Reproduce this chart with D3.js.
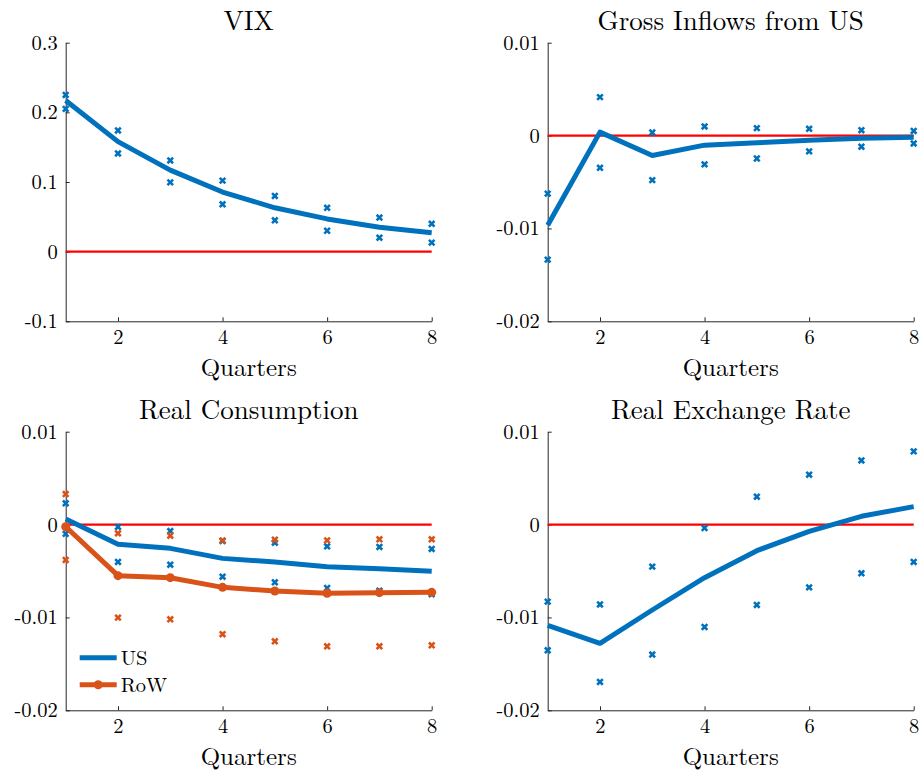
<!DOCTYPE html>
<html>
<head>
<meta charset="utf-8">
<script src="https://cdn.jsdelivr.net/npm/d3@7/dist/d3.min.js"></script>
<style>
  html, body { margin: 0; padding: 0; background: #fff; }
  svg { display: block; }
  text { font-family: 'Latin Modern Roman', 'Liberation Serif', serif; }
</style>
</head>
<body>
<svg id="chart" width="922" height="773"></svg>
<script>
// quarters after the shock
var quarters = [1, 2, 3, 4, 5, 6, 7, 8];
var xTicks = [2, 4, 6, 8];

// VIX
var vixMid = [0.217, 0.158, 0.117, 0.0856, 0.063, 0.047, 0.035, 0.027];
var vixUp = [0.225, 0.174, 0.131, 0.102, 0.080, 0.063, 0.049, 0.040];
var vixLo = [0.205, 0.141, 0.0995, 0.068, 0.045, 0.030, 0.020, 0.013];
var vixTicks = [-0.1, 0, 0.1, 0.2, 0.3];

// Gross Inflows from US
var inflowMid = [-0.00966, 0.00037, -0.00214, -0.00103, -0.00078, -0.0005, -0.0003, -0.00017];
var inflowUp = [-0.00625, 0.00414, 0.00033, 0.00098, 0.0008, 0.00073, 0.00058, 0.0005];
var inflowLo = [-0.01336, -0.00347, -0.0048, -0.0031, -0.00247, -0.0017, -0.0012, -0.00085];

// Real Consumption, US and RoW
var consUsMid = [0.0006, -0.00213, -0.00256, -0.00364, -0.00403, -0.00453, -0.00475, -0.00503];
var consUsUp = [0.00229, -0.00026, -0.0007, -0.00177, -0.00195, -0.00234, -0.00241, -0.00263];
var consUsLo = [-0.001, -0.00403, -0.00432, -0.00561, -0.00622, -0.00683, -0.00711, -0.0075];
var consRowMid = [-0.00023, -0.0055, -0.00572, -0.00676, -0.00715, -0.0074, -0.00733, -0.0073];
var consRowUp = [0.00329, -0.00094, -0.0012, -0.0017, -0.00163, -0.0017, -0.00159, -0.00159];
var consRowLo = [-0.00381, -0.01002, -0.0102, -0.01181, -0.01257, -0.01311, -0.01311, -0.013];

// Real Exchange Rate
var rerMid = [-0.01085, -0.01279, -0.0092, -0.00572, -0.00281, -0.00073, 0.00089, 0.00193];
var rerUp = [-0.0083, -0.0086, -0.00453, -0.00037, 0.003, 0.00537, 0.0069, 0.00788];
var rerLo = [-0.01354, -0.01695, -0.014, -0.01103, -0.00866, -0.00676, -0.00525, -0.00403];

var smallTicks = [-0.02, -0.01, 0, 0.01];

var blue = "#0072BD", orange = "#D95319", red = "#FF0000", axisColor = "#262626";
var serif = "'Latin Modern Roman', 'Liberation Serif', serif";

var svg = d3.select("#chart");

var fmt = function (v) {
    if (Math.abs(v) < 1e-12) return "0";
    return String(+v.toFixed(4));
};

/**
 * one subplot
 */
var drawPanel = function (p) {
    var x = d3.scaleLinear().domain([1, 8]).range([p.left, p.left + 366]);
    var y = d3.scaleLinear().domain(p.yDomain).range([p.top + 278.6, p.top]);
    var g = svg.append("g");

    // axes, ticks pointing inward
    var ax = g.append("g")
        .attr("transform", "translate(0," + (p.top + 278.6) + ")")
        .call(d3.axisBottom(x).tickValues(xTicks).tickFormat(d3.format("d"))
            .tickSizeInner(-4).tickSizeOuter(0).tickPadding(8));
    var ay = g.append("g")
        .attr("transform", "translate(" + p.left + ",0)")
        .call(d3.axisLeft(y).tickValues(p.yTicks).tickFormat(fmt)
            .tickSizeInner(-4).tickSizeOuter(0).tickPadding(8));
    [ax, ay].forEach(function (a) {
        a.attr("font-family", serif).attr("font-size", 20.5);
        a.select(".domain").attr("stroke", axisColor).attr("stroke-width", 1);
        a.selectAll(".tick line").attr("stroke", axisColor);
        a.selectAll(".tick text").attr("fill", "#000");
    });

    // zero line
    g.append("line")
        .attr("x1", x(1)).attr("x2", x(8))
        .attr("y1", y(0)).attr("y2", y(0))
        .attr("stroke", red).attr("stroke-width", 2.2);

    var line = d3.line()
        .x(function (d, i) { return x(quarters[i]); })
        .y(function (d) { return y(d); });

    p.series.forEach(function (s) {
        // confidence bands as x markers
        [s.up, s.lo].forEach(function (arr) {
            g.selectAll(null).data(arr).enter().append("path")
                .attr("d", function (d, i) {
                    var cx = x(quarters[i]), cy = y(d), r = 2.8;
                    return "M" + (cx - r) + "," + (cy - r) + "L" + (cx + r) + "," + (cy + r) +
                        "M" + (cx - r) + "," + (cy + r) + "L" + (cx + r) + "," + (cy - r);
                })
                .attr("stroke", s.color).attr("stroke-width", 2.6).attr("fill", "none");
        });
    });

    p.series.forEach(function (s) {
        g.append("path")
            .attr("d", line(s.mid))
            .attr("fill", "none")
            .attr("stroke", s.color)
            .attr("stroke-width", 5)
            .attr("stroke-linejoin", "round");
        if (s.dots) {
            g.selectAll(null).data(s.mid).enter().append("circle")
                .attr("cx", function (d, i) { return x(quarters[i]); })
                .attr("cy", function (d) { return y(d); })
                .attr("r", 4.5)
                .attr("fill", s.color);
        }
    });

    // title and x label
    g.append("text")
        .attr("x", p.left + 183).attr("y", p.top - 12.7)
        .attr("text-anchor", "middle")
        .style("font-size", "27px")
        .text(p.title);
    g.append("text")
        .attr("x", p.left + 183).attr("y", p.top + 333.5)
        .attr("text-anchor", "middle")
        .style("font-size", "25px")
        .text("Quarters");

    if (p.legend) {
        p.series.forEach(function (s, i) {
            var ly = p.top + 226 + i * 27;
            g.append("line")
                .attr("x1", p.left + 14).attr("x2", p.left + 51)
                .attr("y1", ly).attr("y2", ly)
                .attr("stroke", s.color).attr("stroke-width", 5);
            if (s.dots) {
                g.append("circle").attr("cx", p.left + 32.5).attr("cy", ly)
                    .attr("r", 4.5).attr("fill", s.color);
            }
            g.append("text")
                .attr("x", p.left + 55).attr("y", ly + 7)
                .style("font-size", "20.5px")
                .text(s.name);
        });
    }
};

drawPanel({
    title: "VIX", left: 65.7, top: 42.7, yDomain: [-0.1, 0.3], yTicks: vixTicks,
    series: [{ mid: vixMid, up: vixUp, lo: vixLo, color: blue }]
});
drawPanel({
    title: "Gross Inflows from US", left: 547.7, top: 42.7, yDomain: [-0.02, 0.01], yTicks: smallTicks,
    series: [{ mid: inflowMid, up: inflowUp, lo: inflowLo, color: blue }]
});
drawPanel({
    title: "Real Consumption", left: 65.7, top: 431.7, yDomain: [-0.02, 0.01], yTicks: smallTicks,
    legend: true,
    series: [
        { name: "US", mid: consUsMid, up: consUsUp, lo: consUsLo, color: blue },
        { name: "RoW", mid: consRowMid, up: consRowUp, lo: consRowLo, color: orange, dots: true }
    ]
});
drawPanel({
    title: "Real Exchange Rate", left: 547.7, top: 431.7, yDomain: [-0.02, 0.01], yTicks: smallTicks,
    series: [{ mid: rerMid, up: rerUp, lo: rerLo, color: blue }]
});
</script>
</body>
</html>
